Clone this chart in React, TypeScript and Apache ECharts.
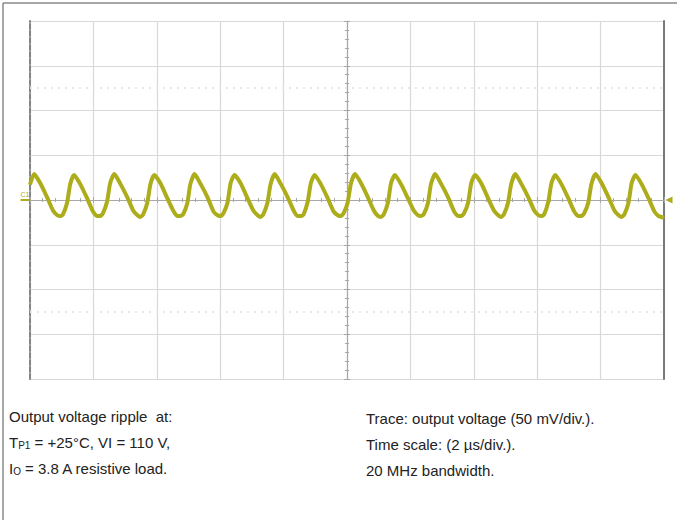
import React, { useEffect, useRef } from "react";
import * as echarts from "echarts";

// Oscilloscope trace: time (µs) and output voltage ripple (mV)
const times: number[] = [
  0.0,
  0.13, 0.32, 0.54, 0.73, 0.86, 0.95, 1.04, 1.17, 1.27,
  1.39, 1.58, 1.8, 1.99, 2.12, 2.21, 2.3, 2.43, 2.53,
  2.66, 2.85, 3.07, 3.26, 3.39, 3.48, 3.57, 3.7, 3.8,
  3.92, 4.11, 4.33, 4.52, 4.65, 4.74, 4.83, 4.96, 5.06,
  5.19, 5.38, 5.6, 5.79, 5.92, 6.01, 6.1, 6.23, 6.33,
  6.45, 6.64, 6.86, 7.05, 7.18, 7.27, 7.36, 7.49, 7.59,
  7.72, 7.91, 8.13, 8.32, 8.45, 8.54, 8.63, 8.76, 8.86,
  8.98, 9.17, 9.39, 9.58, 9.71, 9.8, 9.89, 10.02, 10.12,
  10.25, 10.44, 10.66, 10.85, 10.98, 11.07, 11.16, 11.29, 11.39,
  11.51, 11.7, 11.92, 12.11, 12.24, 12.33, 12.42, 12.55, 12.65,
  12.78, 12.97, 13.19, 13.38, 13.51, 13.6, 13.69, 13.82, 13.92,
  14.04, 14.23, 14.45, 14.64, 14.77, 14.86, 14.95, 15.08, 15.18,
  15.31, 15.5, 15.72, 15.91, 16.04, 16.13, 16.22, 16.35, 16.45,
  16.57, 16.76, 16.98, 17.17, 17.3, 17.39, 17.48, 17.61, 17.71,
  17.84, 18.03, 18.25, 18.44, 18.57, 18.66, 18.75, 18.88, 18.98,
  19.1, 19.29, 19.51, 19.7, 19.83, 19.92, 20.0,
];
const volts: number[] = [
  17,
  29, 19, 3, -12, -17, -18, -16, -3, 18,
  28, 18, 2, -13, -18, -18, -15, -2, 19,
  29, 18, 3, -12, -17, -19, -16, -3, 18,
  28, 19, 2, -12, -18, -18, -16, -4, 18,
  29, 18, 3, -13, -17, -18, -15, -3, 19,
  28, 19, 2, -12, -17, -19, -16, -3, 18,
  29, 18, 3, -12, -18, -18, -16, -2, 19,
  28, 18, 2, -13, -17, -18, -15, -3, 18,
  29, 19, 3, -12, -18, -19, -16, -3, 19,
  28, 18, 2, -12, -17, -18, -16, -4, 18,
  29, 18, 3, -13, -18, -18, -15, -3, 19,
  28, 19, 2, -12, -17, -19, -16, -3, 18,
  29, 18, 3, -12, -17, -18, -16, -2, 19,
  28, 18, 2, -13, -18, -18, -15, -3, 18,
  29, 19, 3, -12, -17, -19, -16, -3, 19,
  28, 18, 2, -13, -18, -19, -20,
];

// Screen: 10 div x 2 µs, 8 div x 50 mV
const timeRange = [0, 20];
const timePerDiv = 2;
const voltRange = [-200, 200];
const voltPerDiv = 50;
const cursorLevels = [125, -125];

const leftNotes = [
  "{n|Output voltage ripple  at:}",
  "{n|T}{s|P1}{n| = +25°C, VI = 110 V,}",
  "{n|I}{s|O}{n| = 3.8 A resistive load.}",
];
const rightNotes = [
  "Trace: output voltage (50 mV/div.).",
  "Time scale: (2 µs/div.).",
  "20 MHz bandwidth.",
];

const FONT = '"Liberation Sans", Arial, sans-serif';
const TRACE = "#adad1c";

export default function App() {
  const ref = useRef<HTMLDivElement>(null);
  useEffect(() => {
    if (!ref.current) return;
    const chart = echarts.init(ref.current, null, { renderer: "svg" });
    const gridRect = { left: 30, top: 21, width: 634, height: 358 };
    const hidden = {
      axisLabel: { show: false },
      axisTick: { show: false },
      splitLine: { show: false },
    };
    const data = times.map((t, i) => [t, volts[i]]);
    const noteLine = (i: number) => 409 + i * 26;
    const graphics: any[] = [
      { type: "line", shape: { x1: 3, y1: 3, x2: 677, y2: 3 }, style: { stroke: "#8a8a8a", lineWidth: 1.5 } },
      { type: "line", shape: { x1: 3, y1: 3, x2: 3, y2: 520 }, style: { stroke: "#8a8a8a", lineWidth: 1.5 } },
    ];
    leftNotes.forEach((t, i) => {
      graphics.push({
        type: "text",
        left: 9,
        top: noteLine(i),
        style: {
          text: t,
          rich: {
            n: { fontSize: 15, fontFamily: FONT, fill: "#222", lineHeight: 18, verticalAlign: "bottom" },
            s: { fontSize: 10, fontFamily: FONT, fill: "#222", lineHeight: 12, verticalAlign: "bottom" },
          },
        },
      });
    });
    rightNotes.forEach((t, i) => {
      graphics.push({
        type: "text",
        left: 366,
        top: noteLine(i),
        style: { text: t, fontSize: 15, fontFamily: FONT, fill: "#222", lineHeight: 18 },
      });
    });

    chart.setOption({
      animation: false,
      backgroundColor: "#ffffff",
      grid: [
        { ...gridRect },
        { ...gridRect },
        { ...gridRect },
      ],
      xAxis: [
        {
          gridIndex: 0,
          type: "value",
          min: timeRange[0],
          max: timeRange[1],
          interval: timePerDiv,
          axisLine: { show: false },
          axisLabel: { show: false },
          axisTick: { show: false },
          splitLine: { show: true, lineStyle: { color: "#d8d8d8", width: 1.2 } },
        },
        {
          gridIndex: 1,
          type: "value",
          min: -5,
          max: 5,
          interval: 1,
          axisLine: { show: true, onZero: true, lineStyle: { color: "#a8a8a8", width: 1.2 } },
          axisTick: { show: true, inside: true, length: 3, lineStyle: { color: "#a8a8a8" } },
          minorTick: { show: true, splitNumber: 5, length: 2, lineStyle: { color: "#a8a8a8" } },
          axisLabel: { show: false },
          splitLine: { show: false },
        },
        {
          gridIndex: 2,
          type: "value",
          min: -5,
          max: 5,
          interval: 1,
          axisLine: { show: false, onZero: true },
          axisTick: { show: true, inside: false, length: 3, lineStyle: { color: "#a8a8a8" } },
          minorTick: { show: true, splitNumber: 5, length: 2, lineStyle: { color: "#a8a8a8" } },
          axisLabel: { show: false },
          splitLine: { show: false },
        },
      ],
      yAxis: [
        {
          gridIndex: 0,
          type: "value",
          min: voltRange[0],
          max: voltRange[1],
          interval: voltPerDiv,
          axisLine: { show: true, lineStyle: { color: "#858585", width: 2, type: [5, 2] } },
          axisLabel: { show: false },
          axisTick: { show: false },
          splitLine: { show: true, lineStyle: { color: "#d8d8d8", width: 1.2 } },
        },
        {
          gridIndex: 1,
          type: "value",
          min: -4,
          max: 4,
          interval: 1,
          axisLine: { show: true, onZero: true, lineStyle: { color: "#a8a8a8", width: 1.2 } },
          axisTick: { show: true, inside: true, length: 3, lineStyle: { color: "#a8a8a8" } },
          minorTick: { show: true, splitNumber: 5, length: 2, lineStyle: { color: "#a8a8a8" } },
          axisLabel: { show: false },
          splitLine: { show: false },
        },
        {
          gridIndex: 2,
          type: "value",
          min: -4,
          max: 4,
          interval: 1,
          axisLine: { show: false, onZero: true },
          axisTick: { show: true, inside: false, length: 3, lineStyle: { color: "#a8a8a8" } },
          minorTick: { show: true, splitNumber: 5, length: 2, lineStyle: { color: "#a8a8a8" } },
          axisLabel: { show: false },
          splitLine: { show: false },
        },
        {
          gridIndex: 0,
          type: "value",
          position: "right",
          min: voltRange[0],
          max: voltRange[1],
          interval: voltPerDiv,
          axisLine: { show: true, lineStyle: { color: "#7a7a7a", width: 2 } },
          ...hidden,
        },
      ],
      series: [
        {
          type: "line",
          xAxisIndex: 0,
          yAxisIndex: 0,
          data,
          symbol: "none",
          smooth: 0.2,
          lineStyle: { color: TRACE, width: 4 },
          silent: true,
          z: 5,
          markLine: {
            silent: true,
            symbol: "none",
            label: { show: false },
            lineStyle: { color: "#e8e8e8", width: 2, type: [2, 5] },
            data: cursorLevels.map((v) => ({ yAxis: v })),
          },
          markPoint: {
            silent: true,
            data: [
              {
                coord: [timeRange[0], 0],
                symbol: "rect",
                symbolSize: [9, 2],
                symbolOffset: [-5, 0],
                itemStyle: { color: TRACE },
                label: {
                  show: true,
                  formatter: "C1",
                  position: "top",
                  distance: 1,
                  fontSize: 7,
                  fontFamily: FONT,
                  color: TRACE,
                },
              },
              {
                coord: [timeRange[1], 0],
                symbol: "triangle",
                symbolRotate: 90,
                symbolSize: [7, 7],
                symbolOffset: [5, 0],
                itemStyle: { color: TRACE },
                label: { show: false },
              },
            ],
          },
        },
      ],
      graphic: graphics,
    });
    return () => chart.dispose();
  }, []);
  return (
    <div
      ref={ref}
      style={{ position: "absolute", left: 0, top: 0, width: 677, height: 520 }}
    />
  );
}
